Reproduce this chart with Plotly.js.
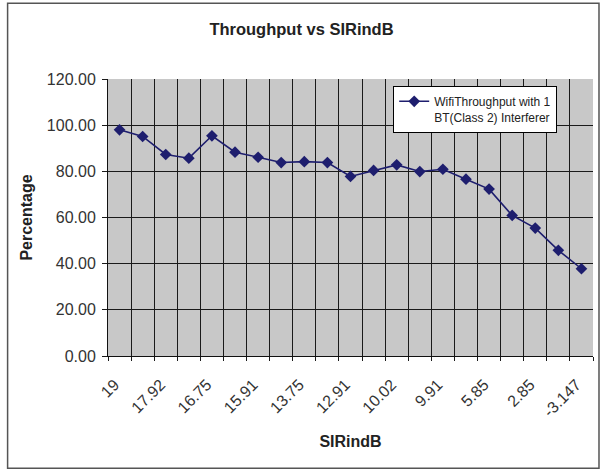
<!DOCTYPE html>
<html>
<head>
<meta charset="utf-8">
<script src="https://cdn.plot.ly/plotly-3.0.1.min.js"></script>
<style>
  html, body { margin: 0; padding: 0; background: #ffffff; }
  #chart { width: 603px; height: 472px; }
</style>
</head>
<body>
<div id="chart"></div>
<script>
// Sample number along the category axis (one per measurement)
const sampleNo = [1, 2, 3, 4, 5, 6, 7, 8, 9, 10, 11, 12, 13, 14, 15, 16, 17, 18, 19, 20, 21];
// Throughput percentage per sample
const throughput = [98.0, 95.1, 87.3, 85.7, 95.4, 88.3, 86.1, 83.8, 84.2, 83.8, 77.8,
                    80.4, 82.8, 79.9, 80.9, 76.6, 72.3, 60.9, 55.4, 45.8, 37.8];
// Labelled categories (every other sample) and their SIR (dB) labels
const labelledSamples = [1, 3, 5, 7, 9, 11, 13, 15, 17, 19, 21];
const sirLabels = ["19", "17.92", "16.75", "15.91", "13.75", "12.91", "10.02", "9.91", "5.85", "2.85", "-3.147"];
const seriesName = "WifiThroughput with 1<br>BT(Class 2) Interferer";

const font = "Liberation Sans, Arial, sans-serif";

const trace = {
  x: sampleNo,
  y: throughput,
  type: "scatter",
  mode: "lines+markers",
  name: seriesName,
  line: { color: "#1e1e6e", width: 1.6 },
  marker: { symbol: "diamond", size: 9, color: "#1e1e6e" },
  showlegend: true
};

const layout = {
  width: 603,
  height: 472,
  margin: { l: 107.5, r: 10, t: 79, b: 115.5 },
  paper_bgcolor: "#ffffff",
  plot_bgcolor: "#c8c8c8",
  font: { family: font, color: "#222222" },
  title: {
    text: "<b>Throughput vs SIRindB</b>",
    font: { family: font, size: 16.5, color: "#222222" },
    xref: "container", x: 0.5, xanchor: "center",
    yref: "container", y: 1 - 29 / 472, yanchor: "middle"
  },
  xaxis: {
    range: [0.5, 21.5],
    tickmode: "array",
    tickvals: labelledSamples,
    ticktext: sirLabels,
    tickangle: -45,
    tickfont: { family: font, size: 16, color: "#333333" },
    ticklabelstandoff: 12,
    ticklabelshift: -5,
    showgrid: false,
    zeroline: false,
    ticks: "",
    showline: true,
    linecolor: "#111111",
    linewidth: 1,
    minor: {
      tick0: 0.5, dtick: 1,
      showgrid: true, gridcolor: "#1a1a1a", gridwidth: 1,
      ticks: "outside", ticklen: 4, tickcolor: "#1a1a1a", tickwidth: 1
    },
    title: { text: "<b>SIRindB</b>", font: { family: font, size: 16, color: "#222222" }, standoff: 16 },
    fixedrange: true
  },
  yaxis: {
    range: [0, 120],
    tick0: 0, dtick: 20,
    tickformat: ".2f",
    tickfont: { family: font, size: 16, color: "#333333" },
    ticklabelstandoff: 3,
    showgrid: true, gridcolor: "#1a1a1a", gridwidth: 1,
    zeroline: false,
    ticks: "outside", ticklen: 5, tickcolor: "#1a1a1a",
    showline: true, linecolor: "#111111", linewidth: 1,
    title: { text: "<b>Percentage</b>", font: { family: font, size: 16, color: "#222222" }, standoff: 10 },
    fixedrange: true
  },
  legend: {
    x: (393 - 107.5) / 485.5, xanchor: "left",
    y: (356.5 - 86) / 277.5, yanchor: "top",
    bgcolor: "#ffffff",
    bordercolor: "#000000", borderwidth: 1,
    font: { family: font, size: 12, color: "#222222" },
    valign: "top",
    tracegroupgap: 0
  },
  shapes: [{
    type: "rect", xref: "paper", yref: "paper",
    x0: (7 - 107.5) / 485.5, x1: (599 - 107.5) / 485.5,
    y0: (356.5 - 469) / 277.5, y1: (356.5 - 3) / 277.5,
    line: { color: "#555555", width: 1.5 },
    fillcolor: "rgba(0,0,0,0)",
    layer: "above"
  }]
};

Plotly.newPlot("chart", [trace], layout, { displayModeBar: false, staticPlot: true });
</script>
</body>
</html>
